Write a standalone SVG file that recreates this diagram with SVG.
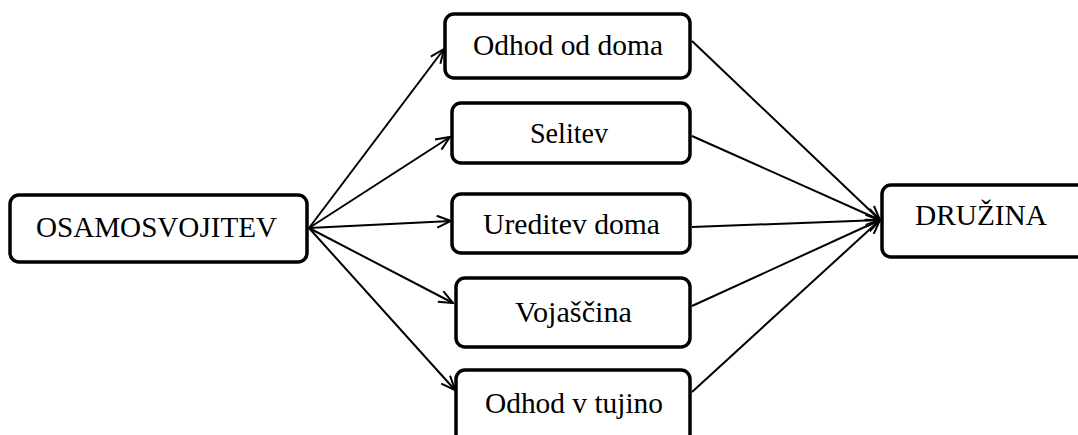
<svg xmlns="http://www.w3.org/2000/svg" width="1078" height="435" viewBox="0 0 1078 435">
<style>
.box{fill:#fff;stroke:#000;stroke-width:3.5}
.lbl{font-family:"Liberation Serif","Times New Roman",serif;font-size:30px;fill:#000;text-anchor:middle}
.edge{stroke:#000;stroke-width:2;fill:none;marker-end:url(#arr)}
</style>
<defs>
<marker id="arr" viewBox="0 0 16 14" refX="15" refY="7" markerWidth="16" markerHeight="14" markerUnits="userSpaceOnUse" orient="auto">
<path d="M1,1 L15,7 L1,13" fill="none" stroke="#000" stroke-width="2"/>
</marker>
</defs>
<rect width="1078" height="435" fill="#fff"/>
<g id="connectors">
<line class="edge" x1="309" y1="228" x2="444" y2="49"/>
<line class="edge" x1="309" y1="228" x2="450" y2="137"/>
<line class="edge" x1="309" y1="228" x2="451" y2="221"/>
<line class="edge" x1="309" y1="228" x2="453" y2="303"/>
<line class="edge" x1="309" y1="228" x2="455" y2="390"/>
<line class="edge" x1="692" y1="41" x2="880" y2="220"/>
<line class="edge" x1="692" y1="136" x2="880" y2="220"/>
<line class="edge" x1="692" y1="227" x2="880" y2="220"/>
<line class="edge" x1="692" y1="306" x2="880" y2="220"/>
<line class="edge" x1="692" y1="392" x2="880" y2="220"/>
</g>
<g id="osamosvojitev">
<rect class="box" x="10" y="195" width="297" height="67" rx="9"/>
<text class="lbl" x="156.5" y="237" textLength="241" lengthAdjust="spacingAndGlyphs">OSAMOSVOJITEV</text>
</g>
<g id="odhod-od-doma">
<rect class="box" x="445" y="14" width="245" height="64" rx="9"/>
<text class="lbl" x="568" y="55" textLength="190" lengthAdjust="spacingAndGlyphs">Odhod od doma</text>
</g>
<g id="selitev">
<rect class="box" x="452" y="103" width="238" height="60" rx="9"/>
<text class="lbl" x="569" y="143" textLength="78" lengthAdjust="spacingAndGlyphs">Selitev</text>
</g>
<g id="ureditev-doma">
<rect class="box" x="452" y="194" width="238" height="59" rx="9"/>
<text class="lbl" x="571.5" y="234" textLength="177" lengthAdjust="spacingAndGlyphs">Ureditev doma</text>
</g>
<g id="vojascina">
<rect class="box" x="456" y="278" width="234" height="69" rx="9"/>
<text class="lbl" x="573.5" y="322" textLength="117" lengthAdjust="spacingAndGlyphs">Vojaščina</text>
</g>
<g id="odhod-v-tujino">
<rect class="box" x="456" y="370" width="234" height="80" rx="9"/>
<text class="lbl" x="574" y="413" textLength="178" lengthAdjust="spacingAndGlyphs">Odhod v tujino</text>
</g>
<g id="druzina">
<rect class="box" x="882" y="185" width="210" height="72" rx="9"/>
<text class="lbl" x="981" y="225" textLength="132" lengthAdjust="spacingAndGlyphs">DRUŽINA</text>
</g>
</svg>
